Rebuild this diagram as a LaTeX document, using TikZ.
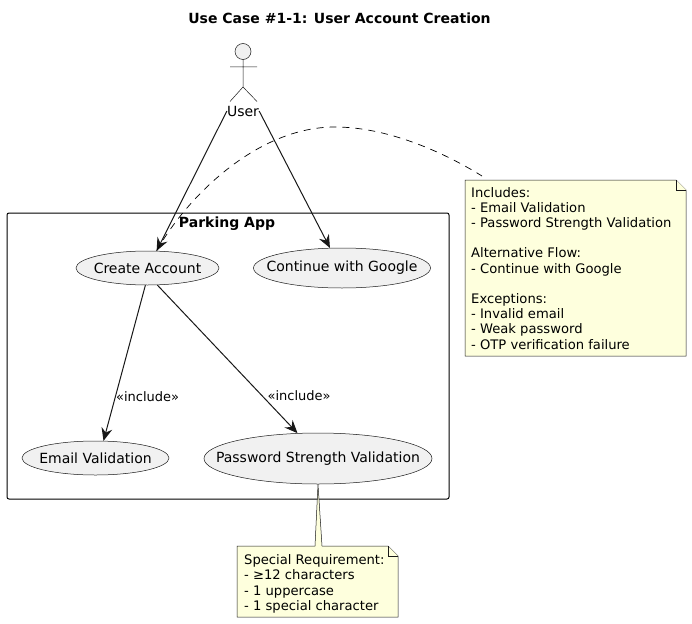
\documentclass[tikz,border=0pt]{standalone}
\usepackage{fontspec}
\setmainfont{DejaVu Sans}
\usetikzlibrary{arrows.meta, shapes.geometric, positioning, calc}
\definecolor{linegray}{HTML}{181818}
\definecolor{ucfill}{HTML}{F1F1F1}
\definecolor{notefill}{HTML}{FEFFDD}
\newcommand{\uctext}[1]{\raisebox{-1pt}{\makebox[0pt]{#1}}}
\tikzset{
  usecase/.style={ellipse, draw=linegray, line width=0.5pt, fill=ucfill, inner sep=0pt, font=\fontsize{14}{16}\selectfont},
  notetext/.style={align=left, anchor=north west, inner sep=0pt, font=\fontsize{13.13}{15.2}\selectfont},
  notepaper/.style={draw=linegray, line width=0.5pt, fill=notefill},
  link/.style={-{Stealth[length=13pt,width=11pt,inset=4.5pt]}, draw=linegray, line width=1pt},
  linklabel/.style={inner sep=0pt, font=\fontsize{13}{15}\selectfont}
}
\begin{document}
\begin{tikzpicture}[x=1pt,y=-1pt]
\useasboundingbox (0,0) rectangle (692,623);
\node[font=\bfseries\fontsize{14}{16}\selectfont] (title) at (339.5,18) {Use Case \#1-1: User Account Creation};
% the system box
\draw[draw=black, line width=1pt, rounded corners=2pt] (7,213) rectangle (449,499);
\node[font=\bfseries\fontsize{14}{16}\selectfont] (apptitle) at (227,224) {Parking App};
% actor
\draw[draw=linegray, line width=0.5pt, fill=ucfill] (243,51.5) circle (8);
\draw[draw=linegray, line width=0.5pt] (243,59.5) -- (243,87) (230,67) -- (257,67) (230,101.5) -- (243,87) -- (257,101.5);
\node[inner sep=0pt, font=\fontsize{14}{16}\selectfont] (user) at (243,111) {User};
% use cases
\node[usecase, minimum width=143pt, minimum height=34pt] (create) at (147.5,268) {\uctext{Create Account}};
\node[usecase, minimum width=177pt, minimum height=40pt] (google) at (342,268) {\uctext{Continue with Google}};
\node[usecase, minimum width=147pt, minimum height=34pt] (email) at (95.5,458) {\uctext{Email Validation}};
\node[usecase, minimum width=228pt, minimum height=51pt] (password) at (318,458.5) {\uctext{Password Strength Validation}};
% notes
\coordinate (notea) at (465,180);
\coordinate (noteb) at (237,546);
\draw[notepaper] (notea) -- ++(211,0) -- ++(10,10) -- ++(0,166) -- ++(-221,0) -- cycle;
\draw[notepaper] ($(notea)+(211,0)$) -- ++(0,10) -- ++(10,0);
\node[notetext] (noteatext) at (471,187) {Includes:\\- Email Validation\\- Password Strength Validation\\[15.2pt]Alternative Flow:\\- Continue with Google\\[15.2pt]Exceptions:\\- Invalid email\\- Weak password\\- OTP verification failure};
\draw[notepaper] (noteb) -- (315,546) -- (password.south) -- (322,546) -- (388,546) -- ++(10,10) -- ++(0,61) -- ++(-161,0) -- cycle;
\draw[notepaper] (388,546) -- ++(0,10) -- ++(10,0);
\node[notetext] (notebtext) at (244,554.5) {Special Requirement:\\- ≥12 characters\\- 1 uppercase\\- 1 special character};
% connectors
\draw[link] (user.west) -- (create.62);
\draw[link] (user.east) -- (google.121);
\draw[link] (create.263) -- node[linklabel, pos=0.71, right=0pt, yshift=-0.5pt] (labela) {«include»} (email.65);
\draw[link] (create.-60) -- node[linklabel, pos=0.74, right=6pt, yshift=-0.5pt] (labelb) {«include»} (password.129);
\draw[draw=black, line width=0.7pt, dash pattern=on 7pt off 6pt] (create.62) .. controls (185,200) and (255,127) .. (335,127) .. controls (385,127) and (440,150) .. (482,176);
\end{tikzpicture}
\end{document}
